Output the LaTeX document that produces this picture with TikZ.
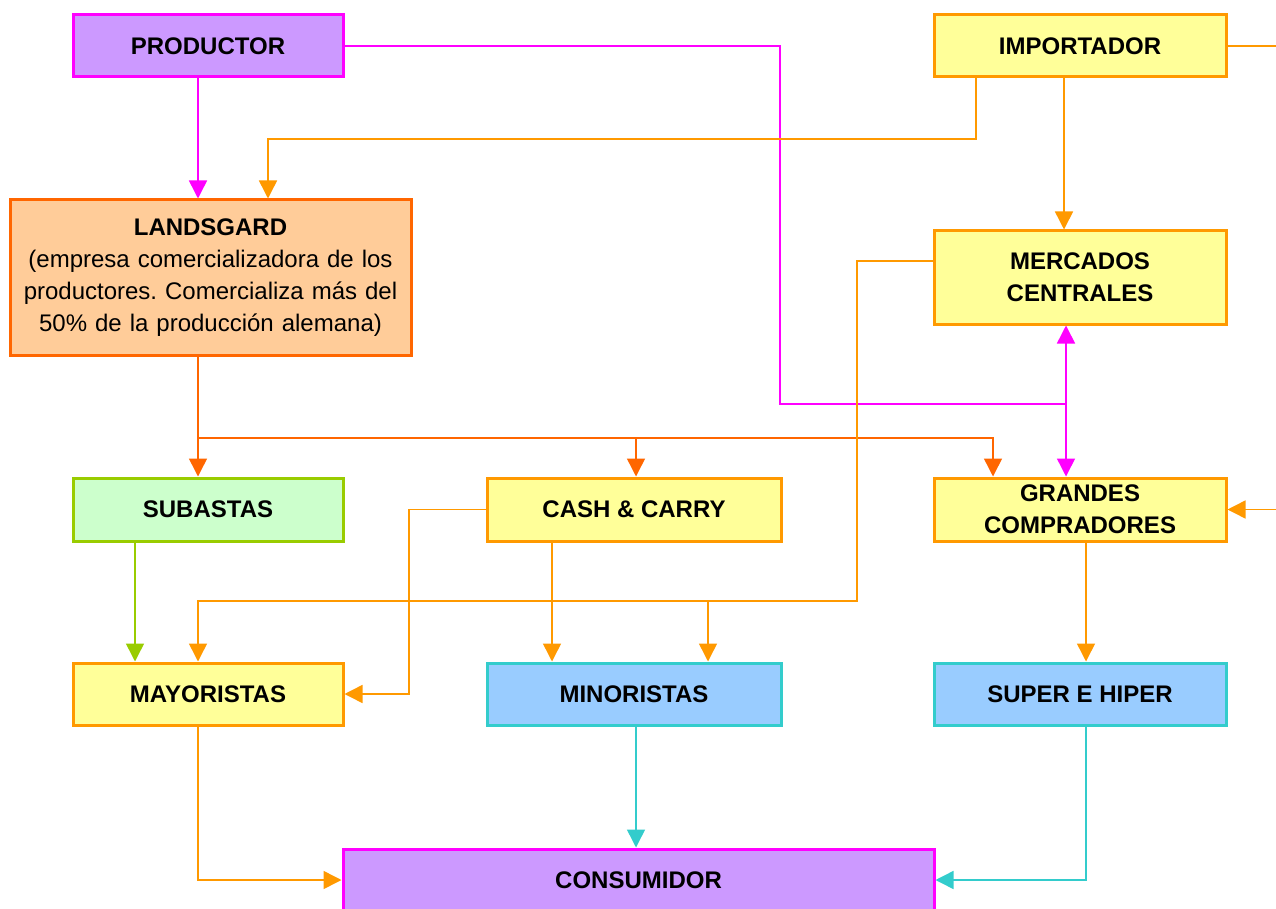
\documentclass[tikz,border=0pt]{standalone}
\usepackage{fontspec}
\setmainfont{Liberation Sans}
\usetikzlibrary{arrows.meta}
\frenchspacing

\definecolor{magline}{HTML}{FF00FF}
\definecolor{lilac}{HTML}{CC99FF}
\definecolor{orline}{HTML}{FF9900}
\definecolor{paleyellow}{HTML}{FFFF99}
\definecolor{darkor}{HTML}{FF6600}
\definecolor{peach}{HTML}{FFCC99}
\definecolor{limeline}{HTML}{99CC00}
\definecolor{mint}{HTML}{CCFFCC}
\definecolor{tealline}{HTML}{33CCCC}
\definecolor{skyfill}{HTML}{99CCFF}

\tikzset{
  box/.style={draw, line width=3pt, inner sep=0pt, align=center,
    font=\fontsize{24}{32}\selectfont\bfseries},
  purplebox/.style={box, draw=magline, fill=lilac},
  yellowbox/.style={box, draw=orline, fill=paleyellow},
  peachbox/.style={box, draw=darkor, fill=peach},
  greenbox/.style={box, draw=limeline, fill=mint},
  bluebox/.style={box, draw=tealline, fill=skyfill},
  link/.style={line width=1.5pt, -{Triangle[width=18pt,length=18pt]}},
  twoway/.style={line width=1.5pt,
    {Triangle[width=18pt,length=18pt]}-{Triangle[width=18pt,length=18pt]}},
  plain/.style={line width=1.5pt},
  maglink/.style={link, draw=magline},
  orlink/.style={link, draw=orline},
  dorlink/.style={link, draw=darkor},
  limelink/.style={link, draw=limeline},
  teallink/.style={link, draw=tealline},
}

\begin{document}
\begin{tikzpicture}[x=1pt, y=-1pt]
\useasboundingbox (0,0) rectangle (1276,909);
\clip (0,0) rectangle (1276,909);

% boxes
\node[purplebox, minimum width=270pt, minimum height=62pt] (prod) at (208,46) {PRODUCTOR};
\node[yellowbox, minimum width=292pt, minimum height=62pt] (imp) at (1080,46) {IMPORTADOR};
\node[peachbox, minimum width=401pt, minimum height=155pt, text width=395pt] (land) at (210.5,277.5)
  {LANDSGARD\\\mdseries (empresa comercializadora de los\\\mdseries productores. Comercializa más del\\\mdseries 50\% de la producción alemana)};
\node[yellowbox, minimum width=292pt, minimum height=93pt] (merc) at (1080,277.5) {MERCADOS\\CENTRALES};
\node[greenbox, minimum width=270pt, minimum height=63pt] (sub) at (208,509.5) {SUBASTAS};
\node[yellowbox, minimum width=294pt, minimum height=63pt] (cash) at (634,509.5) {CASH \& CARRY};
\node[yellowbox, minimum width=292pt, minimum height=63pt] (gran) at (1080,509.5) {GRANDES\\COMPRADORES};
\node[yellowbox, minimum width=270pt, minimum height=62pt] (may) at (208,694) {MAYORISTAS};
\node[bluebox, minimum width=294pt, minimum height=62pt] (min) at (634,694) {MINORISTAS};
\node[bluebox, minimum width=292pt, minimum height=62pt] (sup) at (1080,694) {SUPER E HIPER};
\node[purplebox, minimum width=591pt, minimum height=62pt] (cons) at (638.5,880) {CONSUMIDOR};

% routing points
\coordinate (xa) at (198,0);
\coordinate (pj) at (780,404);
\coordinate (pk) at (1066,404);
\coordinate (ia) at (976,0);
\coordinate (ib) at (268,139);
\coordinate (ic) at (1064,0);
\coordinate (redge) at (1276,46);
\coordinate (gedge) at (1276,509.5);
\coordinate (lh) at (198,438);
\coordinate (xc) at (636,0);
\coordinate (xg) at (993,0);
\coordinate (my) at (900,261);
\coordinate (mv) at (857,601);
\coordinate (mb) at (708,601);
\coordinate (xs) at (552,0);
\coordinate (cv) at (409,600);
\coordinate (xsub) at (135,0);
\coordinate (xsup) at (1086,0);

% productor
\draw[maglink] (prod.south -| xa) -- (land.north -| xa);
\draw[plain, draw=magline] (prod.east) -| (pj) -- (pk);
\draw[twoway, draw=magline] (merc.south -| pk) -- (gran.north -| pk);

% importador
\draw[orlink] (imp.south -| ia) |- (ib) -- (land.north -| ib);
\draw[orlink] (imp.south -| ic) -- (merc.north -| ic);
\draw[plain, draw=orline] (imp.east) -- (redge);
\draw[orlink] (gedge) -- (gran.east);

% landsgard
\draw[dorlink] (land.south -| xa) -- (sub.north -| xa);
\draw[dorlink] (lh) -| (cash.north -| xc);
\draw[dorlink] (lh) -| (gran.north -| xg);

% mercados centrales
\draw[orlink] (merc.west |- my) -| (mv) -| (may.north -| xa);
\draw[orlink] (mb) -- (min.north -| mb);

% cash & carry
\draw[orlink] (cash.south -| xs) -- (min.north -| xs);
\draw[orlink] (cash.west) -| (cv) |- (may.east);

% lower levels
\draw[limelink] (sub.south -| xsub) -- (may.north -| xsub);
\draw[orlink] (gran.south -| xsup) -- (sup.north -| xsup);
\draw[orlink] (may.south -| xa) |- (cons.west);
\draw[teallink] (min.south -| xc) -- (cons.north -| xc);
\draw[teallink] (sup.south -| xsup) |- (cons.east);
\end{tikzpicture}
\end{document}
